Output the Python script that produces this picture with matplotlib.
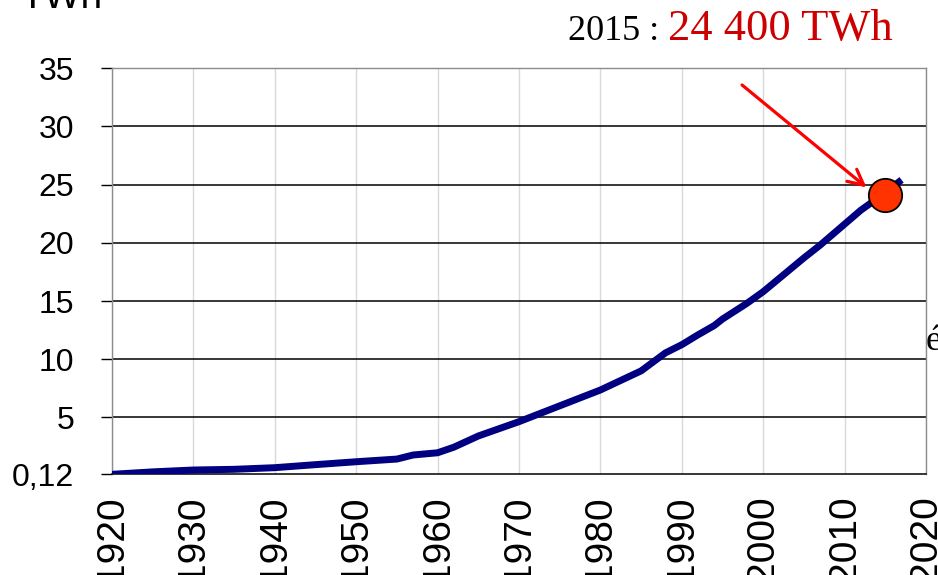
'''World electricity production 1920-2015, in thousand TWh.
Redraws the old slide chart with the 2015 point highlighted.
'''

import matplotlib
matplotlib.use("Agg")
import matplotlib.pyplot as plt

# Data (thousand TWh)
YEARS = [1920, 1925, 1930, 1935, 1940, 1945, 1950, 1955, 1957, 1960,
         1962, 1965, 1970, 1975, 1980, 1985, 1988, 1990, 1992, 1994,
         1995, 1996, 1998, 2000, 2005, 2007, 2010, 2012, 2014, 2017]
PRODUCTION = [0.12, 0.33, 0.49, 0.55, 0.69, 0.95, 1.20, 1.43, 1.78, 1.97,
              2.45, 3.41, 4.64, 6.00, 7.36, 9.00, 10.55, 11.25, 12.10, 12.90,
              13.45, 13.90, 14.80, 15.80, 18.70, 19.80, 21.60, 22.80, 23.80, 25.40]

HIGHLIGHT_YEAR  = 2015
HIGHLIGHT_VALUE = 24.1

Y_TICKS  = [0.12, 5, 10, 15, 20, 25, 30, 35]
Y_LABELS = ["0,12", "5", "10", "15", "20", "25", "30", "35"]
X_TICKS  = list(range(1920, 2021, 10))

SANS  = "Liberation Sans"
SERIF = "Liberation Serif"


def plot_chart():
    fig = plt.figure(figsize=(9.38, 5.75), dpi=100)
    ax = fig.add_axes([0.1194, 0.1751, 0.8678, 0.7065])

    ax.set_xlim(1920, 2020)
    ax.set_ylim(0.12, 35)

    # Grid: light vertical lines per decade, black horizontal lines
    for x in X_TICKS:
        ax.axvline(x, color="#d9d9d9", linewidth=1.0, zorder=1)
    for y in Y_TICKS[1:]:
        ax.axhline(y, color="black", linewidth=1.1, zorder=1)

    ax.plot(YEARS, PRODUCTION, color="#000080", linewidth=5, zorder=3,
            solid_capstyle="butt", solid_joinstyle="round")

    ax.plot([HIGHLIGHT_YEAR], [HIGHLIGHT_VALUE], "o", markersize=24,
            markerfacecolor="#ff3300", markeredgecolor="black",
            markeredgewidth=1.3, zorder=5)

    ax.annotate("", xy=(2012.7, 24.75), xytext=(1997.4, 33.55),
                arrowprops=dict(arrowstyle="->", color="#ff0000", lw=2.3,
                                mutation_scale=28, shrinkA=0, shrinkB=0),
                zorder=6)

    ax.set_yticks(Y_TICKS)
    ax.set_yticklabels(Y_LABELS, fontsize=23, fontfamily=SANS)
    ax.set_xticks(X_TICKS)
    ax.set_xticklabels([str(x) for x in X_TICKS], fontsize=28,
                       fontfamily=SANS, rotation=90, va="top")
    ax.tick_params(axis="y", length=8, width=1.0, color="black", pad=19)
    ax.tick_params(axis="x", length=0, pad=15)

    for side in ("top", "right", "left"):
        ax.spines[side].set_color("#8c8c8c")
        ax.spines[side].set_linewidth(1.0)
    ax.spines["bottom"].set_color("black")
    ax.spines["bottom"].set_linewidth(1.1)

    # Unit label, mostly cut off at the top edge
    fig.text(20 / 938, 1 - 8 / 575, "TWh", fontsize=28, fontfamily=SANS,
             va="baseline", ha="left")

    fig.text(568 / 938, 1 - 40 / 575, "2015 :", fontsize=26,
             fontfamily=SERIF, va="baseline", ha="left", color="black")
    fig.text(668 / 938, 1 - 40 / 575, "24 400 TWh", fontsize=32,
             fontfamily=SERIF, va="baseline", ha="left", color="#cc0000")

    # Stray letter clipped at the right edge
    fig.text(926 / 938, 1 - 350 / 575, "é", fontsize=26,
             fontfamily=SERIF, va="baseline", ha="left")

    fig.savefig("out.png", dpi=100)


def main():
    plot_chart()


if __name__ == "__main__":
    main()
